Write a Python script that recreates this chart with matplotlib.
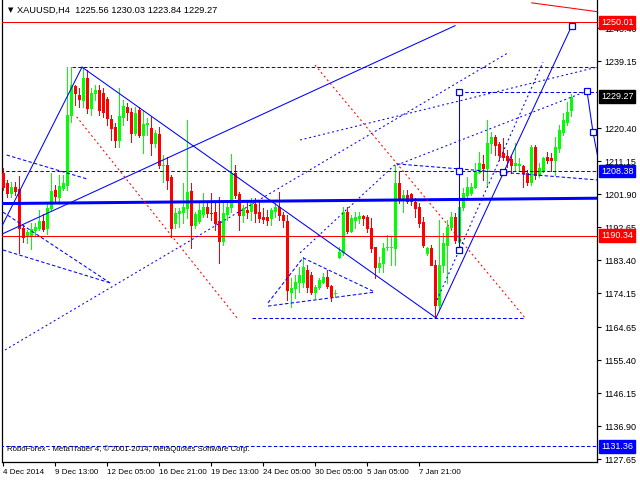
import matplotlib
matplotlib.use('Agg')
import matplotlib.pyplot as plt

plt.rcParams['font.family'] = ['Liberation Sans', 'DejaVu Sans']
plt.rcParams['lines.scale_dashes'] = False

# ---------------- candle data (XAUUSD H4) ----------------
opens = [1207.9,1205.1,1202.3,1203.9,1203.4,1192.5,1190.2,1190.2,1191.9,1192.5,
         1194.4,1192.5,1198.1,1203.1,1201.1,1203.7,1204.5,1224.1,1232.2,1229.7,
         1228.3,1234.5,1226.1,1230.3,1231.1,1230.3,1228.6,1223.0,1220.7,1217.1,
         1223.5,1226.3,1224.9,1219.1,1225.5,1218.5,1221.6,1220.5,1216.3,1218.8,
         1209.8,1210.1,1206.7,1193.9,1196.7,1196.9,1198.1,1202.8,1193.3,1194.4,
         1196.4,1198.3,1196.9,1196.9,1194.4,1188.8,1196.4,1198.3,1207.9,1202.0,
         1196.1,1197.5,1197.2,1199.2,1196.9,1195.5,1195.5,1195.3,1197.2,1198.3,
         1196.1,1194.4,1174.5,1175.7,1177.3,1177.3,1180.7,1179.3,1174.5,1175.9,
         1177.3,1178.7,1176.2,1174.0,1184.3,1185.7,1196.9,1191.6,1194.7,1195.3,
         1195.8,1195.5,1192.5,1187.1,1181.5,1182.7,1186.9,1186.9,1186.9,1205.1,
         1200.3,1201.7,1202.0,1199.7,1198.3,1194.1,1185.5,1186.9,1182.1,1170.9,
         1182.1,1187.7,1192.7,1195.5,1188.5,1198.3,1201.7,1202.3,1203.9,1208.1,
         1210.4,1209.3,1216.3,1217.9,1216.0,1213.5,1212.6,1211.8,1210.1,1210.1,
         1209.8,1207.9,1205.3,1215.1,1207.3,1208.7,1212.3,1212.1,1211.5,1214.9,
         1219.3,1222.1,1225.56]
highs = [1209.3,1205.9,1205.3,1205.3,1207.0,1193.3,1191.9,1193.9,1193.9,1197.5,
         1196.4,1199.7,1207.9,1204.5,1207.3,1207.3,1237.5,1237.5,1232.5,1231.7,
         1237.5,1236.7,1231.7,1232.5,1232.5,1231.7,1229.1,1224.1,1221.9,1231.7,
         1228.3,1227.5,1226.1,1226.3,1226.3,1225.5,1223.3,1223.5,1219.9,1220.7,
         1212.9,1212.3,1207.3,1198.1,1198.1,1205.1,1222.7,1205.1,1196.9,1199.5,
         1202.3,1199.5,1202.3,1199.7,1201.1,1199.5,1199.5,1213.2,1210.1,1202.5,
         1198.9,1200.3,1200.9,1200.9,1200.3,1198.1,1197.5,1198.1,1199.5,1202.5,
         1196.9,1196.1,1178.5,1179.3,1181.5,1184.3,1182.1,1180.1,1176.5,1178.5,
         1179.9,1180.7,1176.5,1175.1,1187.1,1198.3,1198.3,1196.1,1196.9,1196.9,
         1196.1,1196.1,1195.3,1187.1,1184.3,1188.3,1190.5,1189.9,1210.1,1208.1,
         1203.1,1203.1,1202.3,1200.9,1199.5,1195.5,1187.1,1187.7,1183.4,1194.7,
         1191.1,1194.7,1196.9,1196.7,1200.3,1203.7,1206.7,1205.1,1210.7,1213.7,
         1212.9,1222.7,1219.3,1218.5,1216.5,1217.7,1214.3,1212.9,1216.3,1212.1,
         1210.1,1208.7,1215.7,1215.7,1210.7,1212.3,1213.7,1213.5,1217.9,1221.3,
         1224.7,1227.7,1230.03]
lows = [1203.1,1201.1,1201.1,1201.7,1185.5,1188.5,1188.3,1186.6,1190.2,1191.9,
        1191.6,1190.8,1197.5,1199.7,1199.2,1203.1,1203.1,1222.1,1226.9,1226.3,
        1226.3,1224.7,1224.1,1228.3,1224.1,1223.5,1221.3,1217.1,1215.1,1215.1,
        1221.3,1222.7,1216.5,1218.5,1217.9,1213.5,1218.5,1212.9,1215.1,1209.3,
        1205.3,1203.4,1189.9,1192.5,1192.7,1193.9,1195.3,1186.9,1192.5,1193.9,
        1195.5,1195.5,1194.7,1191.9,1182.7,1187.7,1194.7,1196.9,1200.9,1191.9,
        1194.1,1195.3,1194.7,1194.1,1194.1,1193.9,1193.3,1193.3,1195.5,1194.7,
        1192.7,1172.3,1170.3,1172.9,1174.5,1175.9,1174.5,1174.0,1172.9,1175.4,
        1177.1,1175.7,1172.0,1173.1,1184.1,1184.9,1191.1,1191.3,1192.5,1193.9,
        1193.3,1191.3,1185.7,1178.5,1180.1,1180.1,1186.3,1182.1,1182.1,1199.5,
        1196.9,1199.5,1198.9,1195.5,1192.7,1187.1,1184.9,1182.1,1167.3,1169.5,
        1180.1,1177.1,1191.9,1188.3,1186.3,1197.5,1201.1,1201.7,1203.7,1207.9,
        1205.9,1204.5,1213.5,1212.9,1211.5,1211.5,1209.5,1207.9,1208.7,1208.7,
        1203.9,1204.5,1204.5,1206.2,1206.7,1208.1,1210.7,1208.4,1207.3,1213.7,
        1218.5,1221.3,1223.84]
closes = [1203.9,1202.3,1203.9,1202.8,1192.5,1189.9,1191.3,1192.2,1192.7,1194.4,
          1192.2,1198.1,1202.8,1201.4,1204.2,1205.1,1224.1,1232.5,1230.3,1228.6,
          1234.5,1226.1,1230.3,1231.1,1225.5,1224.9,1223.3,1220.5,1217.1,1223.8,
          1226.6,1224.9,1219.1,1224.7,1218.5,1221.6,1221.9,1216.3,1219.1,1210.1,
          1210.1,1205.9,1192.5,1196.7,1197.2,1198.3,1202.5,1193.3,1196.4,1197.5,
          1198.3,1196.7,1196.7,1193.9,1188.8,1196.7,1198.3,1207.9,1201.7,1196.1,
          1198.1,1196.9,1199.5,1196.7,1195.3,1195.0,1194.7,1197.5,1198.3,1196.1,
          1194.7,1175.1,1175.7,1177.3,1179.3,1181.5,1175.9,1174.5,1175.9,1177.9,
          1178.7,1176.2,1173.4,1174.3,1185.7,1196.9,1191.6,1195.3,1195.5,1195.8,
          1195.3,1192.5,1186.9,1181.5,1182.7,1186.9,1187.1,1187.1,1205.1,1200.3,
          1201.7,1200.0,1200.0,1198.1,1193.9,1187.7,1186.9,1182.1,1170.9,1182.1,
          1188.3,1192.7,1195.5,1189.1,1198.3,1202.3,1203.9,1203.9,1208.1,1210.7,
          1209.3,1216.3,1217.9,1215.7,1212.9,1212.3,1211.5,1210.1,1210.7,1210.4,
          1207.9,1205.3,1215.1,1207.3,1209.3,1212.1,1211.5,1211.5,1215.1,1219.9,
          1222.7,1224.9,1229.27]

# x-axis time labels (every 13 bars)
xtick_bars = [0, 13, 26, 39, 52, 65, 78, 91, 104]
xtick_labels = ['4 Dec 2014', '9 Dec 13:00', '12 Dec 05:00', '16 Dec 21:00', '19 Dec 13:00',
                '24 Dec 05:00', '30 Dec 05:00', '5 Jan 05:00', '7 Jan 21:00']
# price scale labels
ytick_values = [1248.40, 1239.15, 1220.40, 1211.15, 1201.90, 1192.65, 1183.40,
                1174.15, 1164.65, 1155.40, 1146.15, 1136.90, 1127.65]
# highlighted price labels: (value, background, text colour)
price_marks = [(1250.01, '#FF0000', 'white'), (1229.27, '#000000', 'white'),
               (1208.38, '#0000FF', 'white'), (1190.34, '#FF0000', 'white'),
               (1131.36, '#0000FF', 'white')]

# ---------------- drawn analysis objects (bar index, price) ----------------
red_hlines = [1250.01, 1190.34]
red_solid = [(132.2, 1255.5, 148.8, 1253.0)]
thick_blue = [(-0.75, 1199.3, 148.5, 1200.8)]
blue_solid = [(-0.75, 1190.5, 113.0, 1249.1),
              (-0.75, 1191.9, 19.75, 1237.5),
              (19.75, 1237.5, 108.25, 1167.3),
              (108.25, 1167.3, 142.2, 1249.1),
              (114.0, 1230.5, 114.0, 1186.3),
              (146.0, 1230.8, 147.5, 1219.3),
              (147.5, 1219.3, 148.6, 1212.9)]
blue_dashed = [(17.25, 1237.5, 148.5, 1237.5),
               (62.25, 1167.3, 130.5, 1167.3),
               (-0.75, 1131.36, 148.5, 1131.36),
               (114.0, 1230.5, 148.5, 1230.5),
               (-0.75, 1208.38, 148.5, 1208.38),
               (98.5, 1210.4, 148.8, 1205.9),
               (0.9, 1212.9, 21.3, 1206.1),
               (0.0, 1196.9, 26.75, 1177.1),
               (0.0, 1186.3, 26.75, 1177.1),
               (66.25, 1171.5, 75.0, 1184.1),
               (75.0, 1184.1, 93.0, 1174.5),
               (66.25, 1170.6, 93.0, 1174.5)]
blue_dotted = [(0.5, 1158.3, 126.25, 1241.5),
               (74.25, 1217.1, 148.5, 1237.5),
               (98.5, 1210.1, 146.0, 1230.8),
               (108.5, 1172.3, 135.0, 1238.9),
               (74.25, 1185.5, 98.5, 1210.7)]
red_dotted = [(18.4, 1223.6, 58.5, 1167.3),
              (78.0, 1238.1, 130.5, 1167.3)]
square_marks = [(114.0, 1230.5), (114.0, 1208.38), (114.0, 1186.3), (125.0, 1208.1),
                (142.2, 1249.1), (146.0, 1230.8), (147.5, 1219.3)]

GREEN = '#00FF00'
RED = '#FF0000'
BLUE = '#0000FF'
PX = 72.0 / 100.0   # one pixel in points

fig = plt.figure(figsize=(6.4, 4.8), dpi=100, facecolor='white')
ax = fig.add_axes([2/640, 18/480, 595/640, 462/480])
ax.set_facecolor('white')
ax.set_xlim(-0.25, 148.5)
ax.set_ylim(1126.94, 1256.3)

# candles: 1 px wick, 3 px body
for i, (o, h, l, c) in enumerate(zip(opens, highs, lows, closes)):
    col = GREEN if c >= o else RED
    ax.plot([i, i], [l, h], color=col, lw=PX, solid_capstyle='butt',
            antialiased=False, zorder=3)
    lo, hi = min(o, c), max(o, c)
    if hi - lo < 0.3:
        ax.plot([i - 0.37, i + 0.37], [c, c], color=col, lw=PX,
                antialiased=False, zorder=3)
    else:
        ax.plot([i, i], [lo, hi], color=col, lw=3 * PX, solid_capstyle='butt',
                antialiased=False, zorder=3)

# analysis objects
lw = PX * 1.05
for y in red_hlines:
    ax.axhline(y, color=RED, lw=lw, zorder=4)
for b0, p0, b1, p1 in red_solid:
    ax.plot([b0, b1], [p0, p1], color=RED, lw=lw, zorder=4)
for b0, p0, b1, p1 in thick_blue:
    ax.plot([b0, b1], [p0, p1], color=BLUE, lw=3 * PX, zorder=4)
for b0, p0, b1, p1 in blue_solid:
    ax.plot([b0, b1], [p0, p1], color=BLUE, lw=lw, zorder=4)
for b0, p0, b1, p1 in blue_dashed:
    ax.plot([b0, b1], [p0, p1], color=BLUE, lw=lw, dashes=(2.5, 1.6), zorder=4)
for b0, p0, b1, p1 in blue_dotted:
    ax.plot([b0, b1], [p0, p1], color=BLUE, lw=lw, dashes=(1.4, 2.0), zorder=4)
for b0, p0, b1, p1 in red_dotted:
    ax.plot([b0, b1], [p0, p1], color=RED, lw=lw, dashes=(1.4, 2.0), zorder=4)
bx = [s[0] for s in square_marks]
by = [s[1] for s in square_marks]
ax.plot(bx, by, ls='none', marker='s', ms=5, mfc='white', mec=BLUE, mew=0.9, zorder=6)

# axes styling
ax.spines['top'].set_visible(False)
for side in ['left', 'bottom', 'right']:
    ax.spines[side].set_color('black')
    ax.spines[side].set_linewidth(0.9)

ax.yaxis.tick_right()
ax.set_yticks(ytick_values)
ax.set_yticklabels(['%.2f' % v for v in ytick_values])
ax.tick_params(axis='y', direction='out', length=3, width=0.8, pad=2, labelsize=6.5,
               colors='black')
ax.set_xticks(xtick_bars)
ax.set_xticklabels(xtick_labels)
ax.tick_params(axis='x', direction='out', length=3, width=0.8, pad=2, labelsize=5.8)
for lab in ax.get_xticklabels():
    lab.set_ha('left')

for val, bg, fg in price_marks:
    ax.annotate('%.2f' % val, xy=(1.0, val), xycoords=('axes fraction', 'data'),
                xytext=(3, 0), textcoords='offset points', ha='left', va='center',
                fontsize=6.5, color=fg, zorder=10, annotation_clip=False,
                bbox=dict(boxstyle='square,pad=0.2', fc=bg, ec=bg))

# header and footer
fig.text(8/640, 1 - 10/480, '\u25bc', fontsize=5, family='DejaVu Sans', va='center', ha='left')
fig.text(17/640, 1 - 10/480, 'XAUUSD,H4  1225.56 1230.03 1223.84 1229.27',
         fontsize=6.7, va='center', ha='left')
ax.text(5/595, (462 - 449)/462, 'RoboForex - MetaTrader 4, \u00a9 2001-2014, MetaQuotes Software Corp.',
        transform=ax.transAxes, fontsize=5.6, va='center', ha='left', zorder=10)

fig.savefig('out.png', dpi=100, facecolor='white')
